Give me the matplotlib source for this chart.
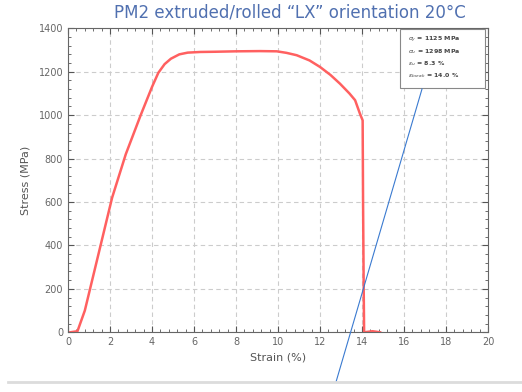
import matplotlib
matplotlib.use("Agg")
import matplotlib.pyplot as plt
from matplotlib.lines import Line2D
from matplotlib.patches import Rectangle
from matplotlib.ticker import MultipleLocator

# stress-strain curve
strain = [0.1, 0.45, 0.8, 1.1, 1.6, 2.1, 2.75, 3.46, 4.0, 4.3, 4.6, 4.9, 5.3, 5.7, 6.3,
          7.0, 8.0, 9.14, 9.94, 10.4, 10.89, 11.5, 12.0, 12.5, 12.95, 13.4, 13.67, 13.9,
          14.03, 14.05, 14.08, 14.1, 14.5, 14.86]
stress = [0, 5, 100, 220, 420, 620, 820, 1000, 1130, 1195, 1235, 1260, 1280, 1288, 1291,
          1292, 1294, 1295, 1294, 1287, 1276, 1252, 1222, 1185, 1145, 1100, 1069, 1007,
          976, 600, 200, 0, 5, 0]

box_lines = [r"$\sigma_y$ = 1125 MPa", r"$\sigma_u$ = 1298 MPa",
             r"$\varepsilon_u$ = 8.3 %", r"$\varepsilon_{break}$ = 14.0 %"]

fig = plt.figure(figsize=(5.22, 3.92), dpi=100)
ax = fig.add_axes([0.1303, 0.1523, 0.8046, 0.7755])

ax.plot(strain, stress, color='#ff6060', lw=1.8)
ax.set_xlim(0, 20)
ax.set_ylim(0, 1400)
ax.xaxis.set_major_locator(MultipleLocator(2))
ax.xaxis.set_minor_locator(MultipleLocator(0.4))
ax.yaxis.set_major_locator(MultipleLocator(200))
ax.yaxis.set_minor_locator(MultipleLocator(40))
ax.tick_params(which='both', direction='in', top=True, right=True,
               labelsize=7, labelcolor='#666666', color='#555555')
ax.tick_params(which='major', length=4)
ax.tick_params(which='minor', length=2)
ax.grid(True, which='major', ls=(0, (4, 3)), color='#cccccc', lw=0.8)
for s in ax.spines.values():
    s.set_color('#666666')
ax.set_xlabel('Strain (%)', fontsize=8, color='#555555', labelpad=4)
ax.set_ylabel('Stress (MPa)', fontsize=8, color='#555555', labelpad=6)

# info box
ax.add_patch(Rectangle((0.79, 0.804), 0.203, 0.194, transform=ax.transAxes,
                       fc='white', ec='#888888', lw=0.8, zorder=3))
for i, line in enumerate(box_lines):
    ax.text(0.81, 0.961 - i * 0.039, line, transform=ax.transAxes, fontsize=4.5,
            va='center', ha='left', color='#444444', fontweight='bold', zorder=4)

fig.text(0.556, 0.968, 'PM2 extruded/rolled \u201cLX\u201d orientation 20\u00b0C',
         ha='center', va='center', fontsize=12, color='#5070b0')

# annotation line and grey divider
fig.add_artist(Line2D([336 / 522, 422 / 522], [1 - 382 / 392, 1 - 89 / 392],
                      color='#3a7ad0', lw=0.8))
fig.add_artist(Line2D([8 / 522, 1.0], [1 - 382 / 392, 1 - 382 / 392],
                      color='#dcdcdc', lw=2))

fig.savefig('out.png', dpi=100)
